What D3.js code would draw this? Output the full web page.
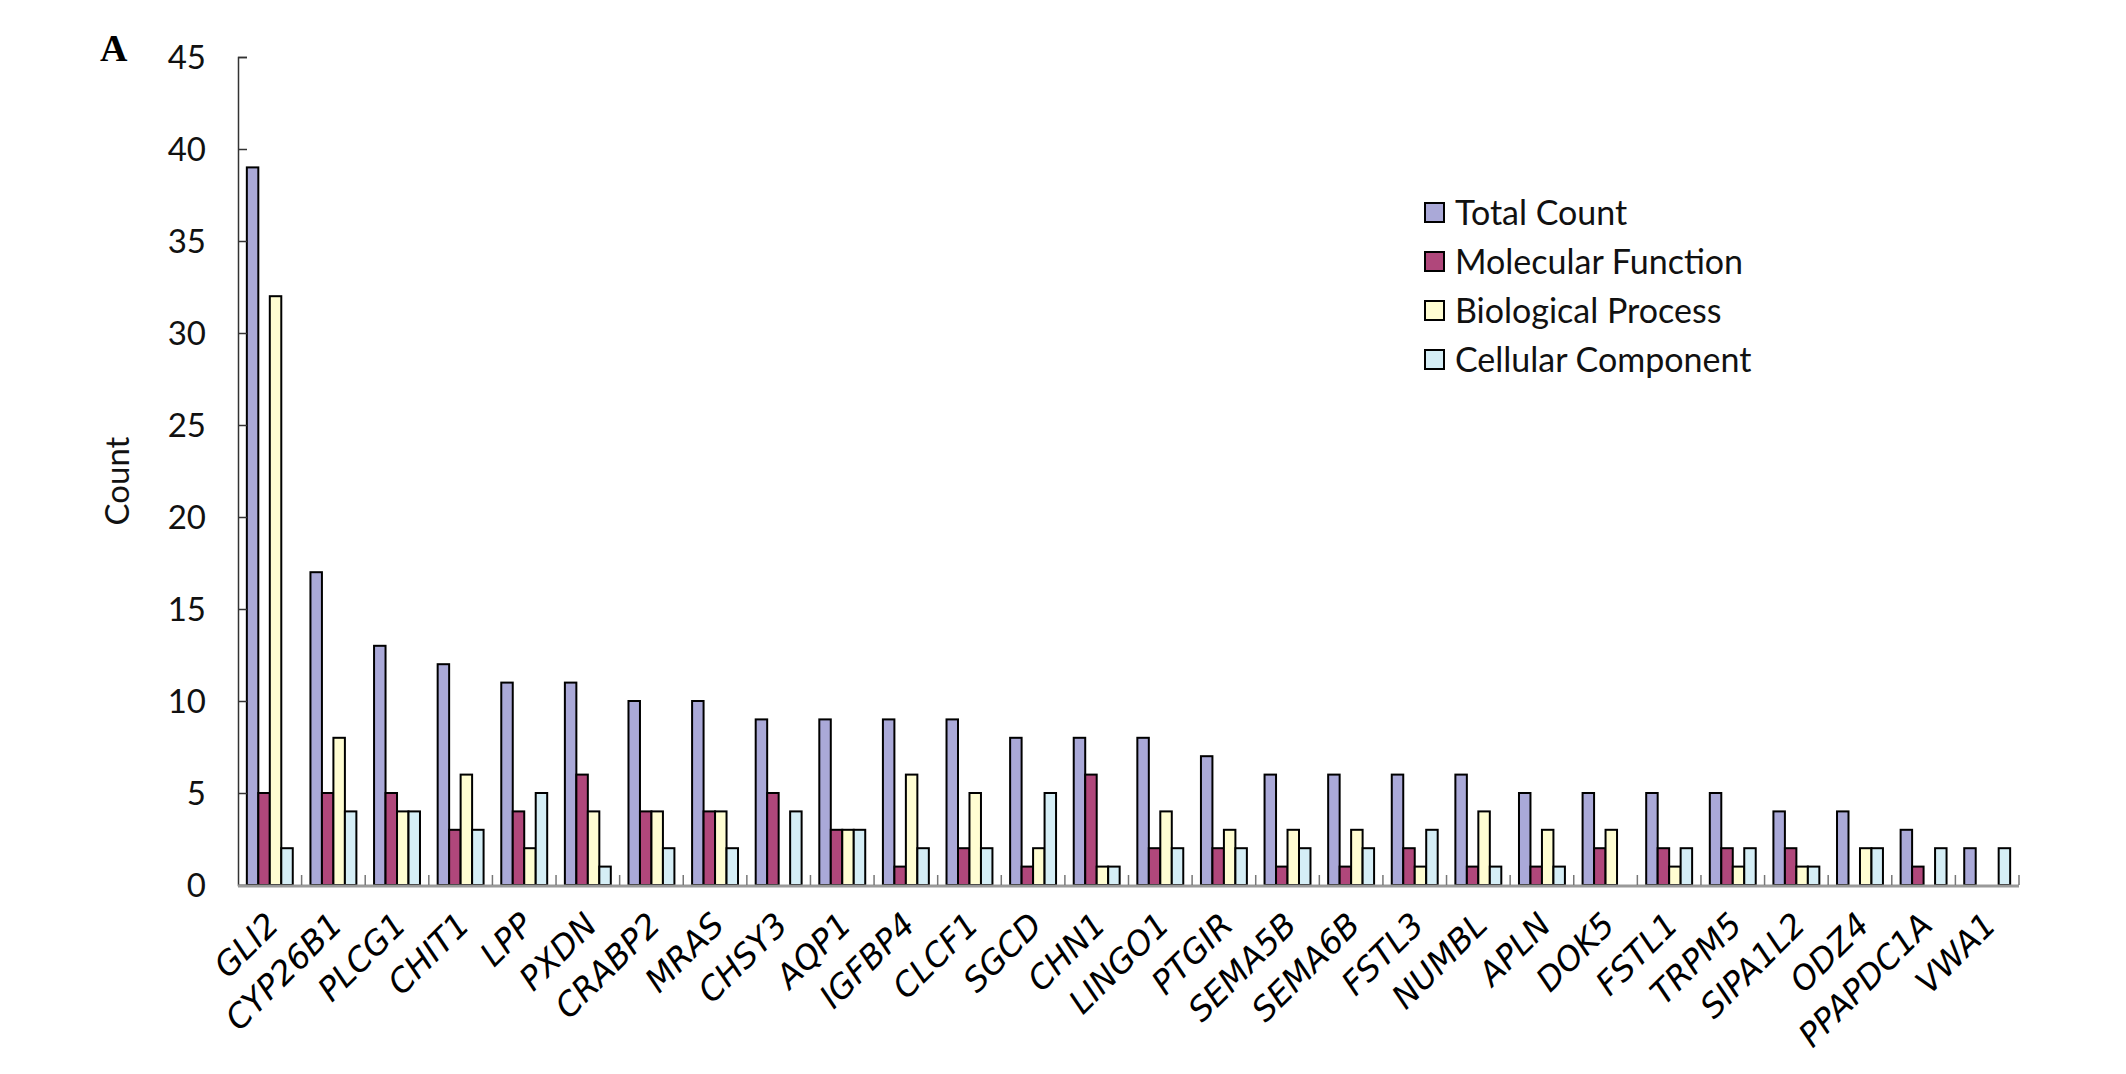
<!DOCTYPE html>
<html>
<head>
<meta charset="utf-8">
<script src="https://cdn.jsdelivr.net/npm/d3@7"></script>
<style>
  body { margin: 0; background: #fff; }
  svg { display: block; }
</style>
</head>
<body>
<div id="viz"></div>
<script>
const genes = ["GLI2", "CYP26B1", "PLCG1", "CHIT1", "LPP", "PXDN", "CRABP2", "MRAS", "CHSY3", "AQP1",
  "IGFBP4", "CLCF1", "SGCD", "CHN1", "LINGO1", "PTGIR", "SEMA5B", "SEMA6B", "FSTL3", "NUMBL",
  "APLN", "DOK5", "FSTL1", "TRPM5", "SIPA1L2", "ODZ4", "PPAPDC1A", "VWA1"];

const seriesNames = ["Total Count", "Molecular Function", "Biological Process", "Cellular Component"];

const totalCount        = [39, 17, 13, 12, 11, 11, 10, 10, 9, 9, 9, 9, 8, 8, 8, 7, 6, 6, 6, 6, 5, 5, 5, 5, 4, 4, 3, 2];
const molecularFunction = [5, 5, 5, 3, 4, 6, 4, 4, 5, 3, 1, 2, 1, 6, 2, 2, 1, 1, 2, 1, 1, 2, 2, 2, 2, 0, 1, 0];
const biologicalProcess = [32, 8, 4, 6, 2, 4, 4, 4, 0, 3, 6, 5, 2, 1, 4, 3, 3, 3, 1, 4, 3, 3, 1, 1, 1, 2, 0, 0];
const cellularComponent = [2, 4, 4, 3, 5, 1, 2, 2, 4, 3, 2, 2, 5, 1, 2, 2, 2, 2, 3, 1, 1, 0, 2, 2, 1, 2, 2, 2];

const yTicks = [0, 5, 10, 15, 20, 25, 30, 35, 40, 45];

const seriesValues = [totalCount, molecularFunction, biologicalProcess, cellularComponent];
const colors = ["#aaa9d8", "#b0477b", "#fffdd2", "#d5eef6"];

const W = 2126, H = 1074;
const plotLeft = 238, plotRight = 2019, plotTop = 57, plotBottom = 885;

const svg = d3.select("#viz")
  .append("svg")
    .attr("width", W)
    .attr("height", H)
    .attr("viewBox", `0 0 ${W} ${H}`);

svg.append("rect").attr("width", W).attr("height", H).attr("fill", "#fff");

const x0 = d3.scaleBand()
  .domain(genes)
  .range([plotLeft, plotRight])
  .padding(0);

const x1 = d3.scaleBand()
  .domain(seriesNames)
  .range([0, x0.bandwidth()])
  .paddingInner(0)
  .paddingOuter(0.77);

const y = d3.scaleLinear()
  .domain([0, 45])
  .range([plotBottom, plotTop]);

const color = d3.scaleOrdinal().domain(seriesNames).range(colors);

// flatten into bar records
const bars = [];
genes.forEach((g, i) => {
  seriesNames.forEach((s, j) => {
    bars.push({gene: g, series: s, value: seriesValues[j][i]});
  });
});

// bars
svg.append("g")
  .selectAll("rect")
  .data(bars.filter(d => d.value > 0))
  .join("rect")
    .attr("x", d => x0(d.gene) + x1(d.series))
    .attr("y", d => y(d.value))
    .attr("width", x1.bandwidth())
    .attr("height", d => plotBottom - y(d.value))
    .attr("fill", d => color(d.series))
    .attr("stroke", "#000")
    .attr("stroke-width", 2);

// y axis (ticks point inward)
const yAxis = svg.append("g")
  .attr("transform", `translate(${plotLeft},0)`)
  .call(d3.axisRight(y).tickValues(yTicks).tickSize(9).tickFormat(""));
yAxis.select(".domain").attr("stroke", "#333").attr("stroke-width", 1.5);
yAxis.selectAll(".tick line").attr("stroke", "#333").attr("stroke-width", 1.5);

svg.append("g")
  .selectAll("text")
  .data(yTicks)
  .join("text")
    .attr("x", 206)
    .attr("y", d => y(d))
    .attr("dy", "0.36em")
    .attr("text-anchor", "end")
    .style("font-family", "Lato, 'Open Sans', sans-serif")
    .style("font-size", "33px")
    .attr("fill", "#111")
    .text(d => d);

// x axis: grey line with category separators pointing up
const xAxis = svg.append("g");
xAxis.append("line")
  .attr("x1", plotLeft)
  .attr("x2", plotRight)
  .attr("y1", plotBottom + 1)
  .attr("y2", plotBottom + 1)
  .attr("stroke", "#999")
  .attr("stroke-width", 3);

const boundaries = genes.map(g => x0(g)).slice(1).concat([plotRight]);
xAxis.selectAll(".sep")
  .data(boundaries)
  .join("line")
    .attr("class", "sep")
    .attr("x1", d => d)
    .attr("x2", d => d)
    .attr("y1", plotBottom)
    .attr("y2", plotBottom - 10)
    .attr("stroke", "#777")
    .attr("stroke-width", 1.5);

// rotated gene labels
svg.append("g")
  .selectAll("text")
  .data(genes)
  .join("text")
    .attr("transform", d => `translate(${x0(d) + x0.bandwidth() / 2 + 11},${plotBottom + 42}) rotate(-45)`)
    .attr("text-anchor", "end")
    .style("font-family", "'DejaVu Sans', Verdana, sans-serif")
    .style("font-style", "italic")
    .style("font-size", "33px")
    .attr("fill", "#000")
    .text(d => d);

// y title
svg.append("text")
  .attr("transform", "translate(117,481) rotate(-90)")
  .attr("text-anchor", "middle")
  .attr("dy", "0.36em")
  .style("font-family", "Lato, 'Open Sans', sans-serif")
  .style("font-size", "33px")
  .attr("fill", "#111")
  .text("Count");

// panel letter
svg.append("text")
  .attr("x", 100)
  .attr("y", 61)
  .style("font-family", "'Liberation Serif', 'Times New Roman', serif")
  .style("font-weight", "bold")
  .style("font-size", "38px")
  .text("A");

// legend
const legend = svg.append("g")
  .attr("transform", "translate(1425,213)");

seriesNames.forEach((s, i) => {
  legend.append("rect")
    .attr("x", 0)
    .attr("y", i * 49 - 10)
    .attr("width", 19)
    .attr("height", 19)
    .attr("fill", color(s))
    .attr("stroke", "#000")
    .attr("stroke-width", 2);

  legend.append("text")
    .attr("x", 30)
    .attr("y", i * 49)
    .attr("dy", "0.36em")
    .style("font-family", "Lato, 'Open Sans', sans-serif")
    .style("font-size", "34px")
    .attr("fill", "#111")
    .text(s);
});
</script>
</body>
</html>
